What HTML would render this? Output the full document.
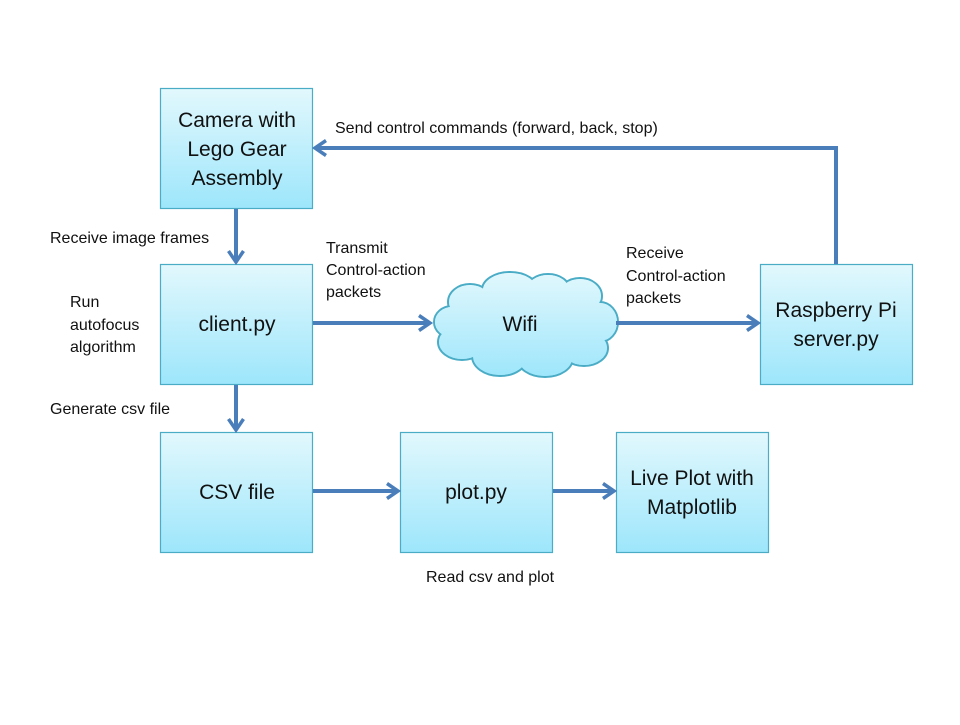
<!DOCTYPE html>
<html><head><meta charset="utf-8"><style>
body{margin:0;background:#fff;}
svg text{font-family:"Liberation Sans",sans-serif;fill:#111;}
</style></head><body>
<svg width="960" height="720" viewBox="0 0 960 720" xmlns="http://www.w3.org/2000/svg">
<defs>
<linearGradient id="g" x1="0" y1="0" x2="0" y2="1"><stop offset="0" stop-color="#e2f8fd"/><stop offset="1" stop-color="#9de6fb"/></linearGradient>
<linearGradient id="gc" gradientUnits="userSpaceOnUse" x1="0" y1="272" x2="0" y2="378"><stop offset="0" stop-color="#e2f8fd"/><stop offset="1" stop-color="#9de6fb"/></linearGradient>
<marker id="a" markerWidth="18" markerHeight="18" refX="13" refY="9" orient="auto" markerUnits="userSpaceOnUse"><path d="M2,1.5 L13,9 L2,16.5" fill="none" stroke="#4a7ebb" stroke-width="3.5"/></marker>
</defs>
<g fill="url(#g)" stroke="#4bacc6" stroke-width="1.2">
<rect x="160.5" y="88.5" width="152" height="120"/>
<rect x="160.5" y="264.5" width="152" height="120"/>
<rect x="760.5" y="264.5" width="152" height="120"/>
<rect x="160.5" y="432.5" width="152" height="120"/>
<rect x="400.5" y="432.5" width="152" height="120"/>
<rect x="616.5" y="432.5" width="152" height="120"/>
</g>
<g>
<g fill="url(#gc)" stroke="#4bacc6" stroke-width="2">
<ellipse cx="470" cy="302" rx="22" ry="18"/>
<ellipse cx="510" cy="290" rx="28" ry="18"/>
<ellipse cx="548" cy="290" rx="22" ry="16"/>
<ellipse cx="580" cy="296" rx="22" ry="18"/>
<ellipse cx="600" cy="322" rx="18" ry="20"/>
<ellipse cx="584" cy="348" rx="24" ry="18"/>
<ellipse cx="545" cy="358" rx="28" ry="19"/>
<ellipse cx="500" cy="356" rx="28" ry="20"/>
<ellipse cx="462" cy="342" rx="24" ry="18"/>
<ellipse cx="452" cy="322" rx="18" ry="16"/>
</g>
<g fill="url(#gc)">
<ellipse cx="470" cy="302" rx="21" ry="17"/>
<ellipse cx="510" cy="290" rx="27" ry="17"/>
<ellipse cx="548" cy="290" rx="21" ry="15"/>
<ellipse cx="580" cy="296" rx="21" ry="17"/>
<ellipse cx="600" cy="322" rx="17" ry="19"/>
<ellipse cx="584" cy="348" rx="23" ry="17"/>
<ellipse cx="545" cy="358" rx="27" ry="18"/>
<ellipse cx="500" cy="356" rx="27" ry="19"/>
<ellipse cx="462" cy="342" rx="23" ry="17"/>
<ellipse cx="452" cy="322" rx="17" ry="15"/>
<ellipse cx="525" cy="324" rx="75" ry="38"/>
</g>
</g>
<g stroke="#4a7ebb" stroke-width="4" fill="none" marker-end="url(#a)">
<path d="M236,209 V262"/>
<path d="M236,385 V430"/>
<path d="M313,323 H430"/>
<path d="M616,323 H758"/>
<path d="M836,264 V148 H315"/>
<path d="M313,491 H398"/>
<path d="M553,491 H614"/>
</g>
<g font-size="21" text-anchor="middle">
<text x="237" y="127">Camera with</text>
<text x="237" y="156">Lego Gear</text>
<text x="237" y="185">Assembly</text>
<text x="237" y="331">client.py</text>
<text x="836" y="317">Raspberry Pi</text>
<text x="836" y="346">server.py</text>
<text x="237" y="499">CSV file</text>
<text x="476" y="499">plot.py</text>
<text x="692" y="485">Live Plot with</text>
<text x="692" y="514">Matplotlib</text>
<text x="520" y="331">Wifi</text>
</g>
<g font-size="16">
<text x="335" y="133">Send control commands (forward, back, stop)</text>
<text x="50" y="243">Receive image frames</text>
<text x="326" y="253">Transmit</text>
<text x="326" y="275">Control-action</text>
<text x="326" y="297">packets</text>
<text x="626" y="258">Receive</text>
<text x="626" y="281">Control-action</text>
<text x="626" y="303">packets</text>
<text x="70" y="307">Run</text>
<text x="70" y="330">autofocus</text>
<text x="70" y="352">algorithm</text>
<text x="50" y="414">Generate csv file</text>
<text x="426" y="582">Read csv and plot</text>
</g>
</svg>
</body></html>
